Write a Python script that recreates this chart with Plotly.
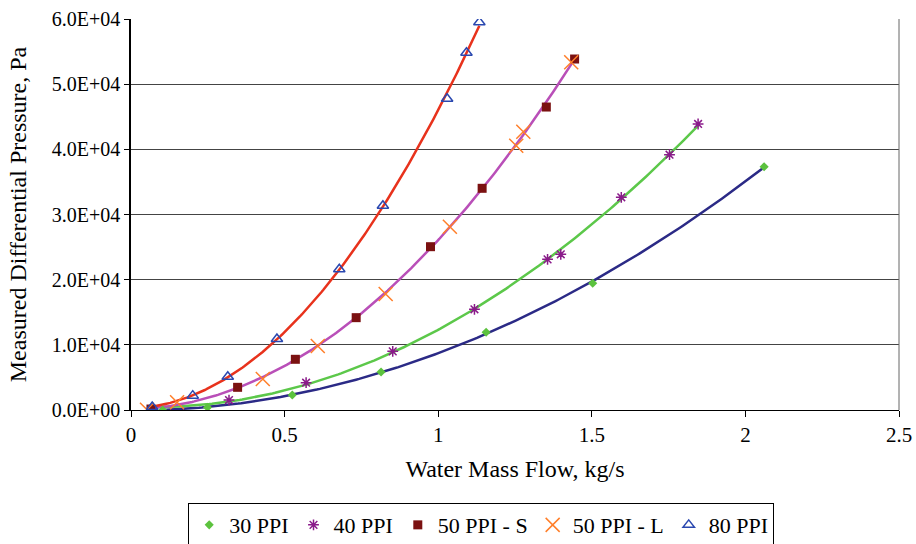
import numpy as np
import plotly.graph_objects as go

# ---- data ----
x_30 = [0.103, 0.249, 0.525, 0.814, 1.156, 1.503, 2.061]
y_30 = [0, 400, 2300, 5830, 11920, 19440, 37330]

x_40 = [0.067, 0.319, 0.570, 0.852, 1.118, 1.356, 1.399, 1.596, 1.753, 1.846]
y_40 = [100, 1530, 4190, 9000, 15450, 23120, 23890, 32640, 39180, 43890]

x_50s = [0.065, 0.347, 0.535, 0.733, 0.975, 1.143, 1.352, 1.444]
y_50s = [150, 3480, 7780, 14170, 25060, 34020, 46490, 53860]

x_50l = [0.052, 0.150, 0.429, 0.608, 0.829, 1.038, 1.254, 1.277, 1.433]
y_50l = [50, 1200, 4760, 9820, 17800, 28130, 40560, 42710, 53350]

x_80 = [0.069, 0.201, 0.315, 0.475, 0.678, 0.820, 1.029, 1.092, 1.134]
y_80 = [450, 2200, 5100, 10900, 21600, 31350, 47770, 54830, 59490]

y_tick_vals = [0, 10000, 20000, 30000, 40000, 50000, 60000]
y_tick_text = ["0.0E+00", "1.0E+04", "2.0E+04", "3.0E+04", "4.0E+04", "5.0E+04", "6.0E+04"]
x_tick_vals = [0, 0.5, 1, 1.5, 2, 2.5]
x_tick_text = ["0", "0.5", "1", "1.5", "2", "2.5"]

FONT = "Liberation Serif"

fig = go.Figure()


def trend(xs, ys, color):
    xs = np.asarray(xs, float)
    ys = np.asarray(ys, float)
    c = np.polyfit(xs, ys, 2)
    xx = np.linspace(xs.min(), xs.max(), 200)
    fig.add_trace(go.Scatter(x=xx, y=np.polyval(c, xx), mode="lines",
                             line=dict(color=color, width=2.5),
                             showlegend=False, hoverinfo="skip"))


trend(x_30, y_30, "#2b2a86")
trend(x_40, y_40, "#5cc84a")
trend(x_50s + x_50l, y_50s + y_50l, "#b94fb8")
trend(x_80, y_80, "#e8321c")

fig.add_trace(go.Scatter(x=x_30, y=y_30, mode="markers", name="30 PPI",
                         marker=dict(symbol="diamond", size=7, color="#5cc23e")))
fig.add_trace(go.Scatter(x=x_40, y=y_40, mode="markers", name="40 PPI",
                         marker=dict(symbol="asterisk-open", size=9, color="#8a1a8a",
                                     line=dict(color="#8a1a8a", width=1.5))))
fig.add_trace(go.Scatter(x=x_50s, y=y_50s, mode="markers", name="50 PPI - S",
                         marker=dict(symbol="square", size=9, color="#7b1111")))
fig.add_trace(go.Scatter(x=x_50l, y=y_50l, mode="markers", name="50 PPI - L",
                         marker=dict(symbol="x-thin-open", size=14, color="#ff7f2a",
                                     line=dict(color="#ff7f2a", width=1.5))))
fig.add_trace(go.Scatter(x=x_80, y=y_80, mode="markers", name="80 PPI",
                         marker=dict(symbol="triangle-up-open", size=10, color="#2a48b0",
                                     line=dict(color="#2a48b0", width=1.5))))

fig.update_layout(
    width=916, height=544,
    margin=dict(l=131, r=17, t=19, b=134, autoexpand=False),
    paper_bgcolor="white", plot_bgcolor="white",
    font=dict(family=FONT, size=20, color="black"),
    showlegend=True,
    legend=dict(orientation="h", x=0.456, xanchor="center", y=-0.238, yanchor="top",
                bordercolor="black", borderwidth=1, font=dict(family=FONT, size=22),
                itemwidth=30, tracegroupgap=0),
    xaxis=dict(range=[0, 2.5], tickvals=x_tick_vals, ticktext=x_tick_text,
               showgrid=False, zeroline=False, showline=True, linecolor="black",
               linewidth=1, mirror=False, ticks="outside", ticklen=6,
               tickcolor="black", tickfont=dict(family=FONT, size=21), automargin=False,
               title=dict(text="Water Mass Flow, kg/s", font=dict(family=FONT, size=24),
                          standoff=13)),
    yaxis=dict(range=[0, 60000], tickvals=y_tick_vals, ticktext=y_tick_text,
               showgrid=True, gridcolor="#444", gridwidth=1, zeroline=False,
               showline=True, linecolor="black", linewidth=1.5, mirror=False,
               ticks="outside", ticklen=5, tickcolor="black",
               tickfont=dict(family=FONT, size=20), automargin=False,
               title=dict(text="Measured Differential Pressure, Pa",
                          font=dict(family=FONT, size=24), standoff=18)),
)

# right border of the plot area
fig.add_shape(type="line", xref="paper", yref="paper", x0=1, x1=1, y0=0, y1=1,
              line=dict(color="#666", width=1))

fig.write_html("out.html",
               config={"displayModeBar": False},
               post_script="document.body.style.margin='0';document.body.style.overflow='hidden';")
